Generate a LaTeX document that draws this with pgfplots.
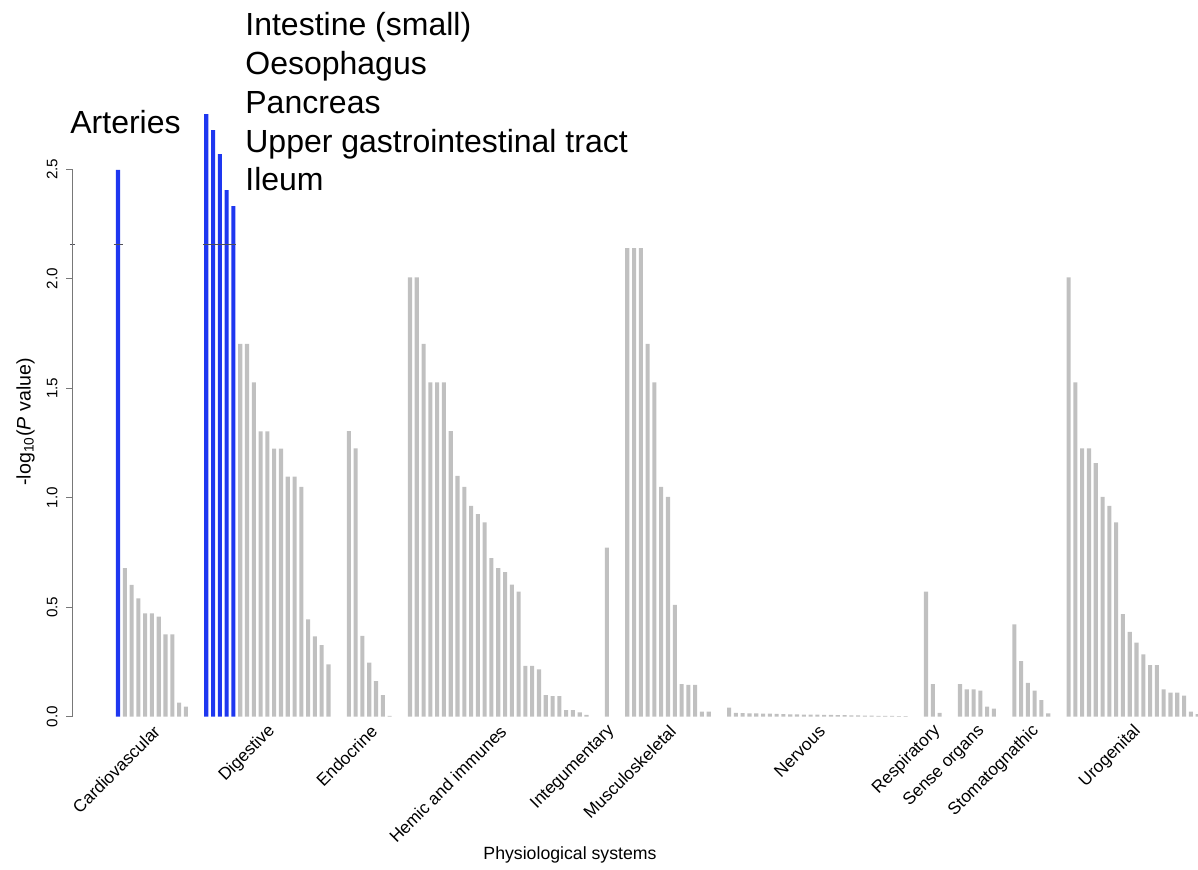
\documentclass[border=0pt]{standalone}
\usepackage{fontspec}
\setmainfont{Liberation Sans}
\usepackage{pgfplots}
\pgfplotsset{compat=1.18}
\definecolor{barblue}{RGB}{30,55,240}
\definecolor{bargray}{RGB}{192,192,192}
\definecolor{thr}{RGB}{80,80,90}
\definecolor{axgray}{RGB}{120,120,120}
\begin{document}
\begin{tikzpicture}
\useasboundingbox (-59pt,-76.15pt) rectangle (540pt,358.35pt);
\begin{axis}[
  anchor=origin, at={(0pt,0pt)},
  x=3.395pt, y=109.48pt,
  xmin=-6.73, xmax=159.06, ymin=0, ymax=2.5,
  clip=false,
  axis lines*=left,
  axis line style={draw=none},
  ytick={0,0.5,1,1.5,2,2.5},
  ytick align=outside,
  major tick length=1.65pt,
  ytick style={draw=none},
  xtick style={draw=none},
  /pgf/number format/assume math mode=true,
  xticklabel style={font=\fontsize{8.6}{10}\selectfont},
  yticklabel style={font=\fontsize{7.6}{9}\selectfont},
  yticklabel style={/pgf/number format/fixed, /pgf/number format/fixed zerofill, /pgf/number format/precision=1, rotate=90, anchor=south, inner sep=0pt},
  yticklabel shift=5.6pt,
  xtick={5.75,22.75,37.75,56.75,72.75,81.75,103.75,120.75,127.25,135.25,150.25},
  xticklabels={Cardiovascular,Digestive,Endocrine,Hemic and immunes,Integumentary,Musculoskeletal,Nervous,Respiratory,Sense organs,Stomatognathic,Urogenital},
  xticklabel style={rotate=45, anchor=east, inner sep=0pt},
  xticklabel shift=4.2pt,
  xlabel={Physiological systems},
  xlabel style={font=\fontsize{8.85}{10}\selectfont, at={(axis cs:66.57,-0.632)}, anchor=center},
  ylabel={-log\textsubscript{10}(\textit{P} value)},
  ylabel style={font=\fontsize{9.8}{11}\selectfont, at={(axis cs:-13.6,1.346)}, anchor=center},
  ybar, bar shift=0pt, bar width=0.6,
]
% gray bars
\addplot[fill=bargray, draw=none] coordinates {
(1,0.679) (2,0.602) (3,0.541) (4,0.472) (5,0.472) (6,0.457) (7,0.376) (8,0.376) (9,0.064) (10,0.046)
(18,1.703) (19,1.703) (20,1.527) (21,1.303) (22,1.303) (23,1.224) (24,1.224) (25,1.097) (26,1.097) (27,1.050) (28,0.444) (29,0.367) (30,0.327) (31,0.239)
(34,1.304) (35,1.225) (36,0.369) (37,0.247) (38,0.163) (39,0.099) (40,0.004)
(43,2.006) (44,2.006) (45,1.703) (46,1.527) (47,1.527) (48,1.527) (49,1.304) (50,1.100) (51,1.050) (52,0.963) (53,0.925) (54,0.888) (55,0.724) (56,0.679) (57,0.660) (58,0.603) (59,0.571) (60,0.232) (61,0.232) (62,0.216) (63,0.099) (64,0.094) (65,0.094) (66,0.030) (67,0.030) (68,0.020) (69,0.008)
(72,0.772)
(75,2.140) (76,2.140) (77,2.140) (78,1.703) (79,1.527) (80,1.050) (81,1.004) (82,0.511) (83,0.149) (84,0.145) (85,0.145) (86,0.023) (87,0.023)
(90,0.041) (91,0.017) (92,0.016) (93,0.015) (94,0.015) (95,0.014) (96,0.014) (97,0.013) (98,0.012) (99,0.011) (100,0.011) (101,0.010) (102,0.009) (103,0.009) (104,0.008) (105,0.008) (106,0.007) (107,0.007) (108,0.006) (109,0.006) (110,0.005) (111,0.005) (112,0.004) (113,0.004) (114,0.004) (115,0.003) (116,0.003)
(119,0.571) (120,0.149) (121,0.018)
(124,0.149) (125,0.125) (126,0.125) (127,0.119) (128,0.046) (129,0.037)
(132,0.422) (133,0.254) (134,0.155) (135,0.119) (136,0.076) (137,0.015)
(140,2.006) (141,1.527) (142,1.226) (143,1.226) (144,1.158) (145,1.004) (146,0.963) (147,0.888) (148,0.469) (149,0.388) (150,0.338) (151,0.285) (152,0.236) (153,0.236) (154,0.125) (155,0.110) (156,0.110) (157,0.096) (158,0.023) (159,0.012)
};
% blue bars
\addplot[fill=barblue, draw=none] coordinates {
(0,2.497) (13,2.752) (14,2.679) (15,2.569) (16,2.405) (17,2.332)
};
% threshold marks
\addplot[ybar=false, sharp plot, draw=thr, line width=0.5pt, mark=none] coordinates {(-0.65,2.155) (0.8,2.155)};
\addplot[ybar=false, sharp plot, draw=thr, line width=0.5pt, mark=none] coordinates {(12.5,2.155) (17.4,2.155)};
\addplot[ybar=false, sharp plot, draw=thr, line width=0.5pt, mark=none] coordinates {(-7.1,2.155) (-6.3,2.155)};
% y axis (R style: from first to last tick)
\draw[axgray, line width=0.5pt] (axis cs:-6.73,0) -- (axis cs:-6.73,2.5);
\draw[axgray, line width=0.5pt] (axis cs:-6.73,0) -- ([xshift=-3pt]axis cs:-6.73,0);
\draw[axgray, line width=0.5pt] (axis cs:-6.73,0.5) -- ([xshift=-3pt]axis cs:-6.73,0.5);
\draw[axgray, line width=0.5pt] (axis cs:-6.73,1) -- ([xshift=-3pt]axis cs:-6.73,1);
\draw[axgray, line width=0.5pt] (axis cs:-6.73,1.5) -- ([xshift=-3pt]axis cs:-6.73,1.5);
\draw[axgray, line width=0.5pt] (axis cs:-6.73,2) -- ([xshift=-3pt]axis cs:-6.73,2);
\draw[axgray, line width=0.5pt] (axis cs:-6.73,2.5) -- ([xshift=-3pt]axis cs:-6.73,2.5);
% annotations
\node[anchor=base west, inner sep=0pt, font=\fontsize{16}{19}\selectfont] at (axis cs:-7.07,2.665) {Arteries};
\node[anchor=base west, inner sep=0pt, font=\fontsize{16}{19}\selectfont] at (axis cs:18.7,3.113) {Intestine (small)};
\node[anchor=base west, inner sep=0pt, font=\fontsize{16}{19}\selectfont] at (axis cs:18.7,2.935) {Oesophagus};
\node[anchor=base west, inner sep=0pt, font=\fontsize{16}{19}\selectfont] at (axis cs:18.7,2.757) {Pancreas};
\node[anchor=base west, inner sep=0pt, font=\fontsize{16}{19}\selectfont] at (axis cs:18.7,2.579) {Upper gastrointestinal tract};
\node[anchor=base west, inner sep=0pt, font=\fontsize{16}{19}\selectfont] at (axis cs:18.7,2.401) {Ileum};
\end{axis}
\end{tikzpicture}
\end{document}
